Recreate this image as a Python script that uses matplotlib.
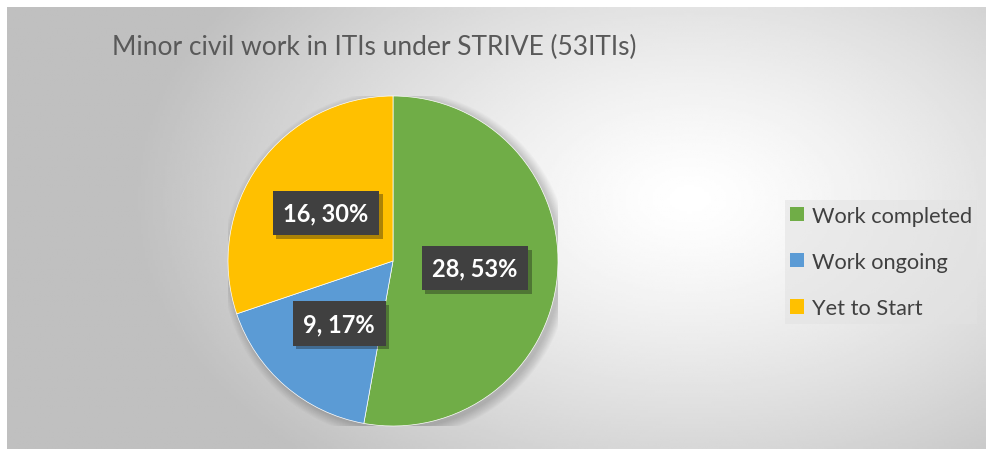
import numpy as np
import matplotlib
matplotlib.use("Agg")
import matplotlib.pyplot as plt
from matplotlib.patches import Patch, Circle
import matplotlib.patheffects as pe

categories = ["Work completed", "Work ongoing", "Yet to Start"]
counts = [28, 9, 16]
colors = ["#70AD47", "#5B9BD5", "#FFC000"]
title = "Minor civil work in ITIs under STRIVE (53ITIs)"

W, H = 987, 452
fig = plt.figure(figsize=(W / 100, H / 100), dpi=100)
fig.patch.set_facecolor("white")

# background chart area with radial gradient
bx0, by0, bx1, by1 = 7, 8, 987, 450
bg = fig.add_axes([bx0 / W, 1 - by1 / H, (bx1 - bx0) / W, (by1 - by0) / H])
xs = np.linspace(bx0, bx1, 400)
ys = np.linspace(by0, by1, 200)
X, Y = np.meshgrid(xs, ys)
r = np.sqrt(((X - 690) / 560) ** 2 + ((Y - 200) / 360) ** 2)
v = 1 - 0.25 * np.clip(r, 0, 1) ** 1.3
bg.imshow(v, cmap="gray", vmin=0, vmax=1, aspect="auto", extent=[0, 1, 0, 1], origin="upper")
bg.set_axis_off()

# pie
cx, cy, R = 393, 262, 165
ax = fig.add_axes([(cx - R) / W, 1 - (cy + R) / H, 2 * R / W, 2 * R / H])
for i in range(10):
    ax.add_patch(Circle((0.02, -0.02), 1.0 + i * 0.006, facecolor="black", alpha=0.018, edgecolor="none", zorder=0))

total = sum(counts)

def fmt(p):
    n = int(round(p * total / 100))
    return f"{n}, {p:.0f}%"

wedges, texts, autotexts = ax.pie(counts, colors=colors, startangle=90, counterclock=False,
                                  autopct=fmt, pctdistance=0.5, radius=1.0,
                                  wedgeprops=dict(linewidth=0.5, edgecolor="white"),
                                  textprops=dict(family=["Lato", "DejaVu Sans"], fontsize=17,
                                                 fontweight="bold", color="white"))
ax.set_xlim(-1, 1)
ax.set_ylim(-1, 1)
ax.set_aspect("equal")
ax.set_axis_off()
for t in autotexts:
    t.set_bbox(dict(boxstyle="square,pad=0.45", facecolor="#404040", edgecolor="none"))
    t.get_bbox_patch().set_path_effects([pe.SimplePatchShadow(offset=(2.5, -2.5), alpha=0.35), pe.Normal()])

# title
fig.text(112 / W, 1 - 47 / H, title, family=["Lato", "DejaVu Sans"], fontsize=19,
         color="#595959", ha="left", va="center")

# legend
handles = [Patch(facecolor=c, edgecolor="none") for c in colors]
leg = fig.legend(handles, categories, loc="center left", bbox_to_anchor=(785 / W, 1 - 263 / H),
                 frameon=True, fancybox=False, prop=dict(family=["Lato", "DejaVu Sans"], size=15.7),
                 handlelength=0.62, handleheight=0.62, handletextpad=0.35, labelspacing=1.2,
                 borderpad=0.25, borderaxespad=0, labelcolor="#404040")
leg.get_frame().set_facecolor("#e2e2e2")
leg.get_frame().set_alpha(0.55)
leg.get_frame().set_edgecolor("none")

fig.savefig("out.png", dpi=100, facecolor="white")
